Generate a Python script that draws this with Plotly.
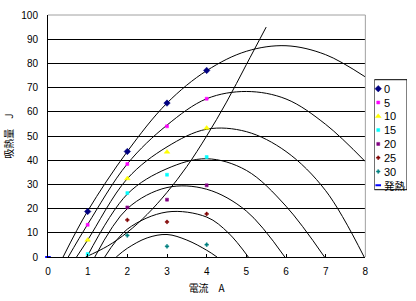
import plotly.graph_objects as go

# ---------------- data ----------------
series_names = ["0", "5", "10", "15", "20", "25", "30", "発熱"]

# measured points (markers)
meas_x = [1, 2, 3, 4]
meas_0 = [18.8, 43.6, 63.6, 77.1]
meas_5 = [13.3, 38.4, 54.0, 65.4]
meas_10 = [7.0, 32.4, 43.4, 53.3]
meas_15 = [1.2, 26.4, 34.0, 41.3]
meas_20 = [None, 20.5, 23.7, 29.6]
meas_25 = [None, 15.3, 14.5, 17.8]
meas_30 = [None, 8.9, 4.4, 5.1]
meas_heat_x = [0]
meas_heat = [0]

# theoretical curves (black lines)
curve0_x = [0.38, 1, 2, 3, 4, 5, 6, 7, 8]
curve0_y = [0, 19.0, 43.6, 63.6, 77.0, 85.0, 87.3, 83.6, 74.4]
curve5_x = [0.51, 1, 2, 3, 4, 5, 6, 7, 8]
curve5_y = [0, 13.5, 38.5, 54.5, 65.4, 68.4, 65.3, 54.8, 39.4]
curve10_x = [0.72, 1, 2, 3, 4, 5, 6, 7, 7.97]
curve10_y = [0, 7.0, 32.4, 45.5, 52.8, 51.8, 43.6, 27.4, 0]
curve15_x = [0.98, 2, 3, 4, 5, 6, 6.97]
curve15_y = [0, 26.0, 36.5, 40.6, 35.8, 21.0, 0]
curve20_x = [1.18, 2, 3, 4, 5, 5.97]
curve20_y = [0, 20.0, 28.7, 28.0, 19.0, 0]
curve25_x = [1.43, 2, 3, 4, 4.55, 5.05]
curve25_y = [0, 11.5, 18.6, 16.5, 9.9, 0]
curve30_x = [1.72, 2, 2.5, 3, 3.5, 4, 4.26]
curve30_y = [0, 3.6, 7.9, 9.3, 7.0, 2.8, 0]
heat_x = [0.95, 1.5, 2, 2.5, 3, 3.5, 4, 4.5, 5, 5.5]
heat_y = [0, 4.5, 10.2, 17.6, 26.7, 37.4, 50.0, 64.0, 79.5, 95.0]

x_ticks = [0, 1, 2, 3, 4, 5, 6, 7, 8]
y_ticks = [0, 10, 20, 30, 40, 50, 60, 70, 80, 90, 100]

# ---------------- styles ----------------
colors = ["#000080", "#FF00FF", "#FFFF00", "#00FFFF", "#800080", "#800000", "#008080", "#0000FF"]
symbols = ["diamond", "square", "triangle-up", "square", "square", "cross", "cross", "line-ew-open"]
sizes = [5, 3, 5, 3, 3, 3, 3, 4]

W, H = 416, 301
ML, MR, MT, MB = 48, 6, 15, 44
PW = W - ML - MR
plot_w = 320
TXT = "Liberation Sans, Arial, sans-serif"
CJK = "Noto Sans CJK JP, sans-serif"

fig = go.Figure()

curves = [(curve0_x, curve0_y), (curve5_x, curve5_y), (curve10_x, curve10_y),
          (curve15_x, curve15_y), (curve20_x, curve20_y), (curve25_x, curve25_y),
          (curve30_x, curve30_y), (heat_x, heat_y)]
for cx, cy in curves:
    fig.add_trace(go.Scatter(x=cx, y=cy, mode="lines",
                             line=dict(color="black", width=1, shape="spline", smoothing=1.0),
                             showlegend=False, hoverinfo="skip"))

meas = [meas_0, meas_5, meas_10, meas_15, meas_20, meas_25, meas_30]
for i, my in enumerate(meas):
    fig.add_trace(go.Scatter(x=meas_x, y=my, mode="markers", name=series_names[i],
                             marker=dict(color=colors[i], symbol=symbols[i], size=sizes[i],
                                         line=dict(color=colors[i], width=0.5)),
                             showlegend=False))
fig.add_trace(go.Scatter(x=meas_heat_x, y=meas_heat, mode="markers", name=series_names[7],
                         marker=dict(color=colors[7], symbol=symbols[7], size=sizes[7],
                                     line=dict(color=colors[7], width=2)),
                         showlegend=False, cliponaxis=False))

# ---------------- custom legend (own small axes) ----------------
leg_top = 64.7
leg_step = 13.8
leg_y = [leg_top + 9 + leg_step * i for i in range(len(series_names))]
for i, name in enumerate(series_names):
    lw = 2 if i == 7 else 0.5
    fig.add_trace(go.Scatter(x=[4], y=[leg_y[i]], mode="markers", xaxis="x2", yaxis="y2",
                             marker=dict(color=colors[i], symbol=symbols[i], size=sizes[i],
                                         line=dict(color=colors[i], width=lw)),
                             showlegend=False, hoverinfo="skip"))
    fig.add_annotation(x=8, y=leg_y[i], xref="x2", yref="y2", text=name, showarrow=False,
                       xanchor="left", yanchor="middle",
                       font=dict(size=11 if i < 7 else 10.5, color="black",
                                 family=TXT if i < 7 else CJK))
fig.add_shape(type="rect", xref="x2", yref="y2", x0=0, x1=33, y0=leg_top, y1=leg_top + 110,
              line=dict(color="black", width=1), fillcolor="rgba(0,0,0,0)")

# plot-area border (top & right, grey)
fig.add_shape(type="line", xref="x domain", yref="y domain", x0=0, x1=1, y0=1, y1=1,
              line=dict(color="#a0a0a0", width=1), layer="above")
fig.add_shape(type="line", xref="x domain", yref="y domain", x0=1, x1=1, y0=0, y1=1,
              line=dict(color="#a0a0a0", width=1), layer="above")

fig.update_layout(
    width=W, height=H,
    margin=dict(l=ML, r=MR, t=MT, b=MB),
    paper_bgcolor="white", plot_bgcolor="white",
    showlegend=False,
    xaxis=dict(domain=[0, plot_w / PW], range=[0, 8], tickvals=x_ticks, showgrid=False,
               zeroline=False, showline=True, linecolor="black", linewidth=1,
               ticks="inside", ticklen=3, tickcolor="black", ticklabelstandoff=5,
               tickfont=dict(family=TXT, size=10, color="black"),
               title=dict(text="電流　A", font=dict(family=CJK, size=10, color="black"), standoff=8)),
    yaxis=dict(range=[0, 100], tickvals=y_ticks, showgrid=True, gridcolor="black", gridwidth=1,
               zeroline=False, showline=True, linecolor="black", linewidth=1,
               ticks="", ticklabelstandoff=7,
               tickfont=dict(family=TXT, size=10, color="black"),
               title=dict(text="吸熱量　J", font=dict(family=CJK, size=10, color="black"), standoff=5)),
    xaxis2=dict(domain=[(377 - ML) / PW, 1], range=[0, 33], visible=False, anchor="y2",
                fixedrange=True),
    yaxis2=dict(domain=[0, 1], range=[242, 0], visible=False, anchor="x2", fixedrange=True),
)

fig.write_html("out.html")
